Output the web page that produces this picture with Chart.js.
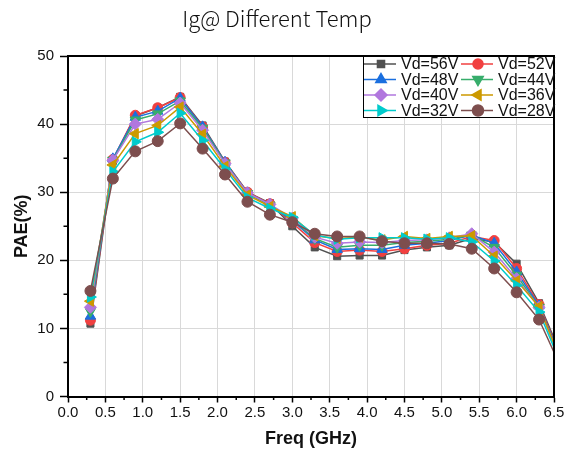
<!DOCTYPE html>
<html>
<head>
<meta charset="utf-8">
<script src="https://cdn.jsdelivr.net/npm/chart.js@4.4.0/dist/chart.umd.min.js"></script>
<style>
  html, body { margin: 0; padding: 0; background: #fff; }
  #wrap { width: 577px; height: 450px; }
</style>
</head>
<body>
<div id="wrap"><canvas id="paeChart" width="577" height="450"></canvas></div>
<script>
// Data (PAE % vs frequency)
const freqGHz = [0.3, 0.6, 0.9, 1.2, 1.5, 1.8, 2.1, 2.4, 2.7, 3.0, 3.3, 3.6, 3.9, 4.2, 4.5, 4.8, 5.1, 5.4, 5.7, 6.0, 6.3, 6.6];

const vd56 = [10.7, 34.6, 41.2, 42.4, 44.0, 39.8, 34.5, 30.0, 28.4, 25.0, 21.9, 20.6, 20.7, 20.7, 21.5, 21.9, 22.2, 23.2, 22.7, 19.5, 13.7, 6.0];
const vd52 = [11.2, 34.8, 41.3, 42.4, 43.9, 39.6, 34.4, 30.0, 28.3, 25.5, 22.6, 21.3, 21.5, 21.3, 21.7, 22.2, 22.5, 23.5, 22.9, 18.8, 13.5, 5.6];
const vd48 = [11.8, 34.9, 41.0, 41.9, 43.8, 39.6, 34.4, 29.9, 28.2, 25.8, 23.0, 21.6, 21.7, 21.6, 22.2, 22.5, 22.9, 23.7, 22.5, 18.3, 13.3, 5.4];
const vd44 = [12.5, 34.7, 40.6, 41.5, 43.4, 39.4, 34.3, 29.8, 28.1, 26.0, 23.2, 21.9, 22.2, 22.2, 22.6, 22.8, 23.1, 23.7, 21.9, 17.8, 13.1, 5.2];
const vd40 = [13.1, 34.7, 40.0, 40.7, 43.1, 39.1, 34.2, 29.9, 28.2, 26.2, 23.4, 22.5, 22.7, 22.6, 22.9, 23.0, 23.3, 23.9, 21.2, 17.3, 13.1, 5.0];
const vd36 = [14.0, 34.0, 38.6, 39.8, 42.5, 38.5, 33.8, 29.6, 27.9, 26.4, 23.6, 23.2, 23.4, 23.0, 23.5, 23.2, 23.5, 23.6, 20.6, 17.0, 13.2, 5.0];
const vd32 = [14.6, 33.0, 37.4, 38.8, 41.6, 37.6, 33.4, 29.2, 27.6, 26.3, 23.7, 23.1, 23.3, 23.3, 23.3, 23.1, 23.3, 22.7, 19.9, 16.3, 12.4, 4.6];
const vd28 = [15.5, 32.0, 36.0, 37.5, 40.1, 36.4, 32.6, 28.6, 26.7, 25.6, 23.9, 23.5, 23.5, 22.8, 22.5, 22.5, 22.4, 21.7, 18.8, 15.3, 11.3, 4.1];

const seriesLabels = ["Vd=56V", "Vd=52V", "Vd=48V", "Vd=44V", "Vd=40V", "Vd=36V", "Vd=32V", "Vd=28V"];
const seriesValues = [vd56, vd52, vd48, vd44, vd40, vd36, vd32, vd28];

// Origin-like palette and marker shapes
const colors = ["#515151", "#F14040", "#1A6FDF", "#37AD6B", "#B177DE", "#CC9900", "#00CBCC", "#7D4E4E"];
const markers = [
  { style: "rect", rotation: 0, radius: 5 },
  { style: "circle", rotation: 0, radius: 5 },
  { style: "triangle", rotation: 0, radius: 6 },
  { style: "triangle", rotation: 180, radius: 6 },
  { style: "rectRot", rotation: 0, radius: 6 },
  { style: "triangle", rotation: -90, radius: 6 },
  { style: "triangle", rotation: 90, radius: 6 },
  { style: "circle", rotation: 0, radius: 5.5 }
];

const tickFont = { family: "'Liberation Sans', Arial, sans-serif", size: 15 };

// Frame, minor ticks
const framePlugin = {
  id: "frame",
  afterDraw(chart) {
    const { ctx, chartArea: a, scales } = chart;
    ctx.save();
    ctx.strokeStyle = "#000";
    ctx.lineWidth = 2;
    ctx.beginPath();
    ctx.moveTo(a.left, a.top);
    ctx.lineTo(a.right, a.top);
    ctx.lineTo(a.right, a.bottom);
    ctx.stroke();

    // minor ticks
    ctx.lineWidth = 1.5;
    ctx.beginPath();
    for (let v = 0.25; v < 6.5; v += 0.5) {
      const x = scales.x.getPixelForValue(v);
      ctx.moveTo(x, a.bottom);
      ctx.lineTo(x, a.bottom + 3.5);
    }
    for (let v = 5; v < 50; v += 10) {
      const y = scales.y.getPixelForValue(v);
      ctx.moveTo(a.left, y);
      ctx.lineTo(a.left - 4.5, y);
    }
    ctx.stroke();
    ctx.restore();
  }
};

// Legend box inside the plot, top right, two columns
const legendBoxPlugin = {
  id: "legendBox",
  afterDraw(chart) {
    const { ctx, chartArea: a } = chart;
    const boxW = 191, boxH = 62;
    const left = a.right - boxW, top = a.top;
    ctx.save();
    ctx.fillStyle = "#fff";
    ctx.fillRect(left, top, boxW, boxH);
    ctx.strokeStyle = "#000";
    ctx.lineWidth = 1;
    ctx.strokeRect(left + 0.5, top + 0.5, boxW - 1, boxH - 1);

    ctx.font = "16px 'Liberation Sans', Arial, sans-serif";
    ctx.textBaseline = "middle";
    chart.data.datasets.forEach((ds, i) => {
      const col = i % 2, row = Math.floor(i / 2);
      const x0 = left + 1 + col * 97;
      const y = top + 8 + row * 15.5;
      ctx.strokeStyle = ds.borderColor;
      ctx.lineWidth = 1.5;
      ctx.beginPath();
      ctx.moveTo(x0, y);
      ctx.lineTo(x0 + 32, y);
      ctx.stroke();
      ctx.fillStyle = ds.borderColor;
      Chart.helpers.drawPoint(ctx, {
        pointStyle: ds.pointStyle,
        rotation: ds.pointRotation,
        radius: ds.pointRadius,
        borderWidth: 1
      }, x0 + 17, y);
      ctx.fillStyle = "#111";
      ctx.textAlign = "left";
      ctx.fillText(ds.label, x0 + 37, y + 1);
    });
    ctx.restore();
  }
};

function buildDatasets() {
  return seriesLabels.map((label, i) => ({
    label: label,
    data: freqGHz.map((f, j) => ({ x: f, y: seriesValues[i][j] })),
    borderColor: colors[i],
    backgroundColor: colors[i],
    borderWidth: 1.5,
    pointStyle: markers[i].style,
    pointRotation: markers[i].rotation,
    pointRadius: markers[i].radius,
    pointBorderWidth: 1,
    tension: 0,
    order: seriesLabels.length - i
  }));
}

function initChart() {
  const ctx = document.getElementById("paeChart").getContext("2d");
  new Chart(ctx, {
    type: "line",
    data: { datasets: buildDatasets() },
    options: {
      responsive: false,
      animation: false,
      layout: { padding: { top: 0, right: 23, bottom: 0, left: 0 } },
      plugins: {
        legend: { display: false },
        tooltip: { enabled: false },
        title: {
          display: true,
          text: "Ig@ Different Temp",
          color: "#111",
          font: { family: "'Noto Sans CJK SC', 'Noto Sans', sans-serif", size: 22, weight: 300 },
          padding: { top: 5, bottom: 24.6 }
        }
      },
      scales: {
        x: {
          type: "linear",
          min: 0,
          max: 6.5,
          afterFit(scale) { scale.height = 53.5; },
          border: { color: "#000", width: 2 },
          grid: { color: "#d9d9d9", lineWidth: 1, tickColor: "#000", tickLength: 6, tickWidth: 1.5 },
          ticks: {
            stepSize: 0.5,
            color: "#111",
            font: tickFont,
            padding: 1,
            maxRotation: 0,
            autoSkip: false,
            callback: v => v.toFixed(1)
          },
          title: {
            display: true,
            text: "Freq (GHz)",
            color: "#111",
            font: { family: "'Liberation Sans', Arial, sans-serif", size: 18, weight: "bold" },
            padding: { top: 2, bottom: 0 }
          }
        },
        y: {
          min: 0,
          max: 50,
          afterFit(scale) { scale.width = 68; },
          border: { color: "#000", width: 2 },
          grid: { color: "#d9d9d9", lineWidth: 1, tickColor: "#000", tickLength: 8, tickWidth: 1.5 },
          ticks: {
            stepSize: 10,
            color: "#111",
            font: tickFont,
            padding: 6
          },
          title: {
            display: true,
            text: "PAE(%)",
            color: "#111",
            font: { family: "'Liberation Sans', Arial, sans-serif", size: 18, weight: "bold" },
            padding: { top: 11, bottom: 0 }
          }
        }
      }
    },
    plugins: [framePlugin, legendBoxPlugin]
  });
}

document.addEventListener("DOMContentLoaded", initChart);
</script>
</body>
</html>
